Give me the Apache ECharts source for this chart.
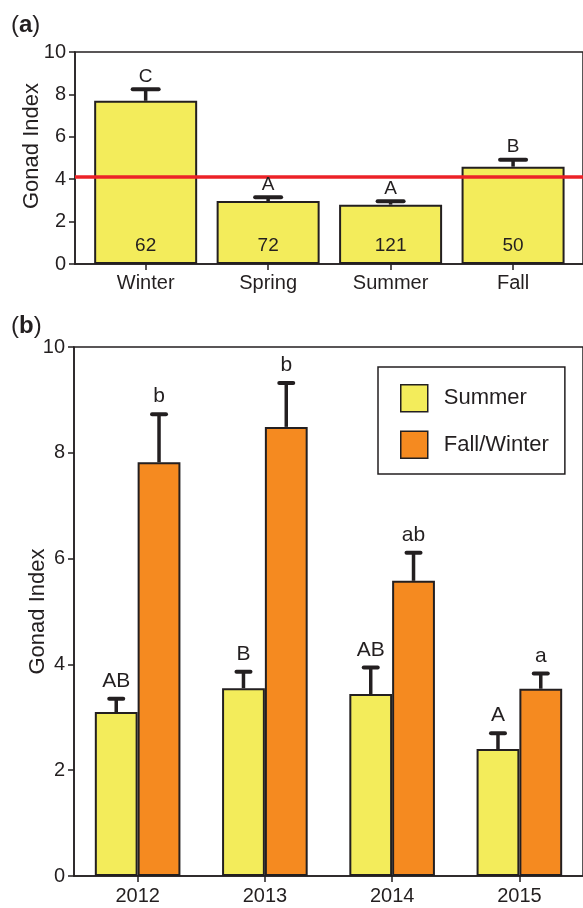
<!DOCTYPE html>
<html>
<head>
<meta charset="utf-8">
<script src="https://cdn.jsdelivr.net/npm/echarts@6/dist/echarts.min.js"></script>
<style>
html,body{margin:0;padding:0;background:#fff;}
#chart{width:583px;height:908px;}
</style>
</head>
<body>
<div id="chart"></div>
<script>
// ---------- data ----------
const seasons = ['Winter', 'Spring', 'Summer', 'Fall'];
const seasonMean = [7.70, 2.97, 2.80, 4.59];
const seasonErrTop = [8.24, 3.15, 2.96, 4.92];
const seasonLetters = ['C', 'A', 'A', 'B'];
const seasonN = [62, 72, 121, 50];
const thresholdValue = 4.12;

const years = ['2012', '2013', '2014', '2015'];
const summerMean = [3.10, 3.55, 3.44, 2.40];
const summerErrTop = [3.35, 3.86, 3.94, 2.70];
const summerLetters = ['AB', 'B', 'AB', 'A'];
const fallWinterMean = [7.82, 8.49, 5.58, 3.54];
const fallWinterErrTop = [8.73, 9.32, 6.11, 3.83];
const fallWinterLetters = ['b', 'b', 'ab', 'a'];

const yMin = 0, yMax = 10, yStep = 2;

// ---------- style ----------
const INK = '#231F20';
const YELLOW = '#F3EC5B';
const ORANGE = '#F58A20';
const RED = '#EC2227';
const FONT = 'Liberation Sans, Arial, Helvetica, sans-serif';
const BAR_A = 103;
const BAR_B = 42.8;

function errorRenderer(means, tops, letters, offsetPx, capHalf, gap, fontSize) {
  return function (params, api) {
    const i = params.dataIndex;
    const pTop = api.coord([api.value(0), tops[i]]);
    const pMean = api.coord([api.value(0), means[i]]);
    const x = pTop[0] + offsetPx;
    return {
      type: 'group',
      children: [
        { type: 'line', shape: { x1: x, y1: pMean[1], x2: x, y2: pTop[1] },
          style: { stroke: INK, lineWidth: 3.5 } },
        { type: 'line', shape: { x1: x - capHalf, y1: pTop[1], x2: x + capHalf, y2: pTop[1] },
          style: { stroke: INK, lineWidth: 4, lineCap: 'round' } },
        { type: 'text', style: { text: letters[i], x: x, y: pTop[1] - gap,
          align: 'center', verticalAlign: 'bottom', fontSize: fontSize,
          fontFamily: FONT, fill: INK } }
      ]
    };
  };
}

const chart = echarts.init(document.getElementById('chart'), null, { renderer: 'canvas' });

const yAxisCommon = {
  type: 'value', min: yMin, max: yMax, interval: yStep,
  axisLine: { show: true, onZero: false, lineStyle: { color: INK, width: 1.5 } },
  axisTick: { show: true, length: 6, lineStyle: { color: INK, width: 1.5 } },
  axisLabel: { color: INK, fontSize: 20, fontFamily: FONT, margin: 9 },
  splitLine: { show: false },
  name: 'Gonad Index', nameLocation: 'middle', nameMoveOverlap: false
};

const titleRich = {
  p: { fontSize: 24, fontWeight: 'normal', color: INK, fontFamily: FONT },
  b: { fontSize: 24, fontWeight: 'bold', color: INK, fontFamily: FONT }
};

const option = {
  animation: false,
  backgroundColor: '#fff',
  textStyle: { fontFamily: FONT },
  title: [
    { text: '{p|(}{b|a}{p|)}', left: 6, top: 8, textStyle: { fontWeight: 'normal', rich: titleRich } },
    { text: '{p|(}{b|b}{p|)}', left: 6, top: 309, textStyle: { fontWeight: 'normal', rich: titleRich } }
  ],
  legend: {
    data: ['Summer', 'Fall/Winter'],
    orient: 'vertical',
    left: 378, top: 367,
    itemWidth: 27, itemHeight: 27, itemGap: 18,
    padding: [17, 16, 15, 22],
    borderColor: INK, borderWidth: 1.5, backgroundColor: '#fff',
    icon: 'rect',
    itemStyle: { borderColor: INK, borderWidth: 1.5 },
    textStyle: { fontSize: 22, color: INK, fontFamily: FONT, padding: [0, 0, 0, 11] }
  },
  grid: [
    { left: 75, right: -3, top: 52, height: 212, show: true, borderColor: INK, borderWidth: 1.5 },
    { left: 74, right: -5, top: 347, height: 529, show: true, borderColor: INK, borderWidth: 1.5 }
  ],
  xAxis: [
    { gridIndex: 0, type: 'value', min: -0.577, max: 3.571,
      axisLine: { show: true, onZero: false, lineStyle: { color: INK, width: 1.5 } },
      axisTick: { show: true, length: 6, customValues: [0, 1, 2, 3], lineStyle: { color: INK, width: 1.5 } },
      axisLabel: { customValues: [0, 1, 2, 3], formatter: v => seasons[Math.round(v)] || '',
                   color: INK, fontSize: 20, fontFamily: FONT, margin: 9 },
      splitLine: { show: false } },
    { gridIndex: 1, type: 'category', data: years,
      axisLine: { show: true, onZero: false, lineStyle: { color: INK, width: 1.5 } },
      axisTick: { show: true, length: 6, alignWithLabel: true, lineStyle: { color: INK, width: 1.5 } },
      axisLabel: { color: INK, fontSize: 20, fontFamily: FONT, margin: 10 },
      splitLine: { show: false } }
  ],
  yAxis: [
    Object.assign({}, yAxisCommon, { gridIndex: 0, nameGap: 32,
      nameTextStyle: { color: INK, fontSize: 22, fontFamily: FONT, padding: [0, 0, 0, 24] } }),
    Object.assign({}, yAxisCommon, { gridIndex: 1, nameGap: 25,
      nameTextStyle: { color: INK, fontSize: 22, fontFamily: FONT } })
  ],
  series: [
    { name: 'Season', type: 'bar', xAxisIndex: 0, yAxisIndex: 0,
      data: seasonMean.map((v, i) => [i, v]),
      barWidth: BAR_A,
      itemStyle: { color: YELLOW, borderColor: INK, borderWidth: 2 },
      label: { show: true, position: 'insideBottom', distance: 9,
               formatter: p => String(seasonN[p.dataIndex]),
               fontSize: 19, color: INK, fontFamily: FONT } },
    { name: 'SeasonErr', type: 'custom', xAxisIndex: 0, yAxisIndex: 0, z: 5,
      data: seasonErrTop.map((v, i) => [i, v]),
      renderItem: errorRenderer(seasonMean, seasonErrTop, seasonLetters, 0, 13, 3, 19),
      markLine: { silent: true, symbol: 'none', label: { show: false },
                  lineStyle: { color: RED, width: 3.5, type: 'solid' },
                  data: [{ yAxis: thresholdValue }] } },
    { name: 'Summer', type: 'bar', xAxisIndex: 1, yAxisIndex: 1,
      data: summerMean, barWidth: BAR_B, barGap: '0%',
      itemStyle: { color: YELLOW, borderColor: INK, borderWidth: 2 } },
    { name: 'Fall/Winter', type: 'bar', xAxisIndex: 1, yAxisIndex: 1,
      data: fallWinterMean, barWidth: BAR_B, barGap: '0%',
      itemStyle: { color: ORANGE, borderColor: INK, borderWidth: 2 } },
    { name: 'SummerErr', type: 'custom', xAxisIndex: 1, yAxisIndex: 1, z: 5,
      data: summerErrTop.map((v, i) => [i, v]),
      renderItem: errorRenderer(summerMean, summerErrTop, summerLetters, -BAR_B / 2, 7, 7, 21) },
    { name: 'FallWinterErr', type: 'custom', xAxisIndex: 1, yAxisIndex: 1, z: 5,
      data: fallWinterErrTop.map((v, i) => [i, v]),
      renderItem: errorRenderer(fallWinterMean, fallWinterErrTop, fallWinterLetters, BAR_B / 2, 7, 7, 21) }
  ]
};

chart.setOption(option);
</script>
</body>
</html>
